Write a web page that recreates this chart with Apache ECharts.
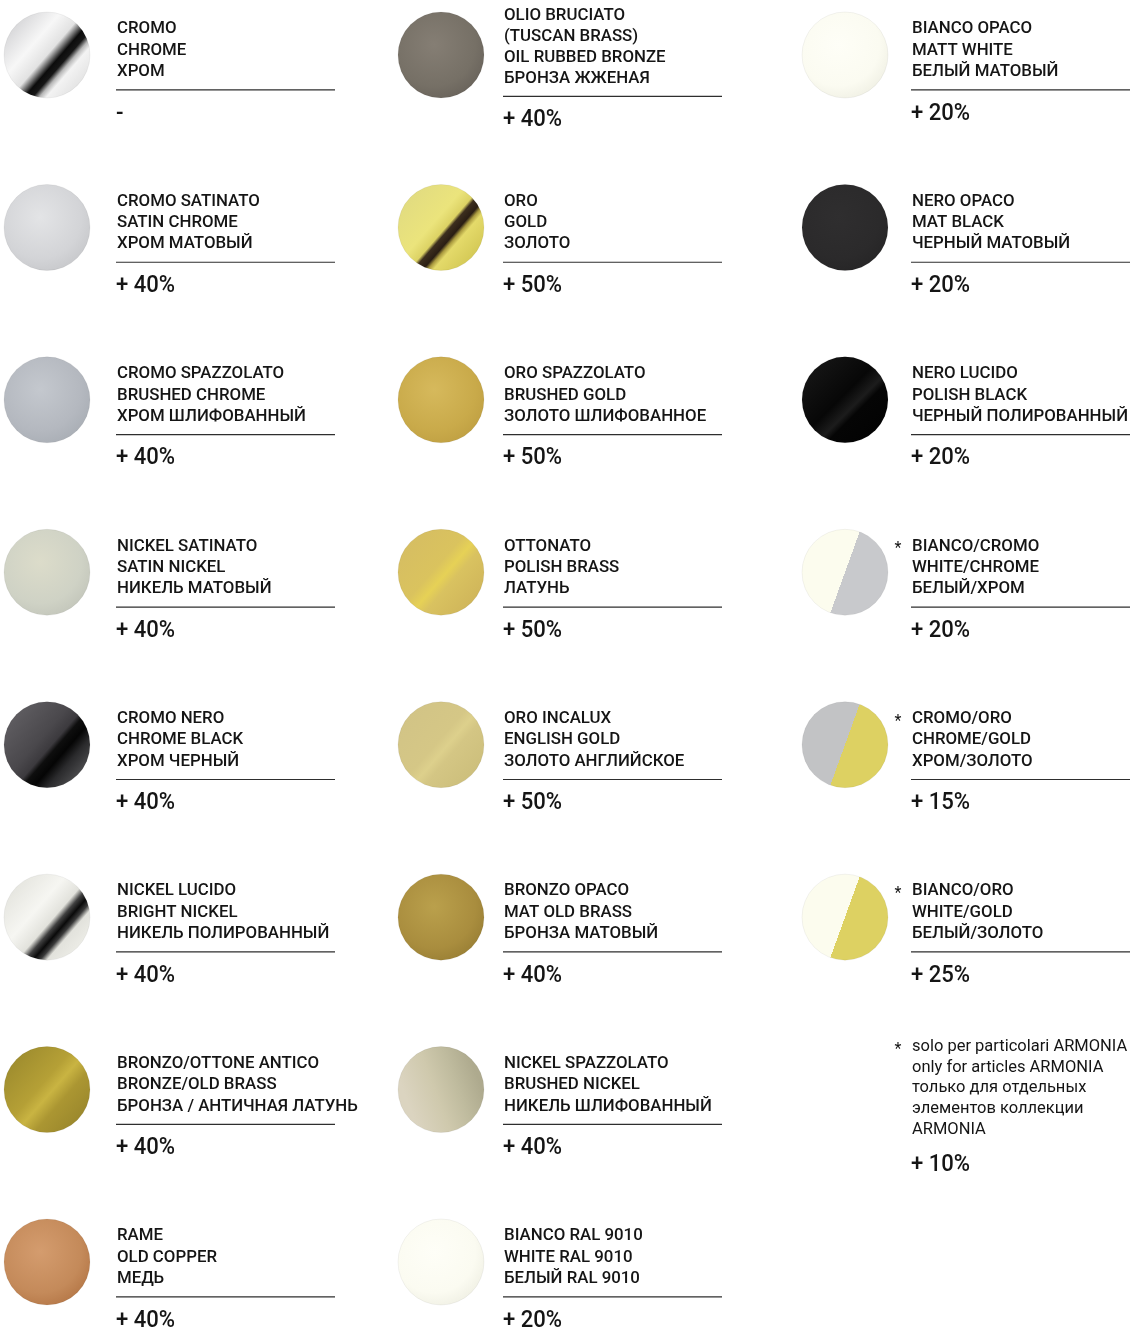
<!DOCTYPE html>
<html><head><meta charset="utf-8">
<script src="https://cdn.jsdelivr.net/npm/echarts@6/dist/echarts.min.js"></script>
<style>html,body{margin:0;padding:0;background:#fff}#c{width:1134px;height:1330px}</style>
</head><body><div id="c"></div>
<script>
// ---- data ----
const finishLabels = [
  'CROMO\nCHROME\nХРОМ',
  'CROMO SATINATO\nSATIN CHROME\nХРОМ МАТОВЫЙ',
  'CROMO SPAZZOLATO\nBRUSHED CHROME\nХРОМ ШЛИФОВАННЫЙ',
  'NICKEL SATINATO\nSATIN NICKEL\nНИКЕЛЬ МАТОВЫЙ',
  'CROMO NERO\nCHROME BLACK\nХРОМ ЧЕРНЫЙ',
  'NICKEL LUCIDO\nBRIGHT NICKEL\nНИКЕЛЬ ПОЛИРОВАННЫЙ',
  'BRONZO/OTTONE ANTICO\nBRONZE/OLD BRASS\nБРОНЗА / АНТИЧНАЯ ЛАТУНЬ',
  'RAME\nOLD COPPER\nМЕДЬ',
  'OLIO BRUCIATO\n(TUSCAN BRASS)\nOIL RUBBED BRONZE\nБРОНЗА ЖЖЕНАЯ',
  'ORO\nGOLD\nЗОЛОТО',
  'ORO SPAZZOLATO\nBRUSHED GOLD\nЗОЛОТО ШЛИФОВАННОЕ',
  'OTTONATO\nPOLISH BRASS\nЛАТУНЬ',
  'ORO INCALUX\nENGLISH GOLD\nЗОЛОТО АНГЛИЙСКОЕ',
  'BRONZO OPACO\nMAT OLD BRASS\nБРОНЗА МАТОВЫЙ',
  'NICKEL SPAZZOLATO\nBRUSHED NICKEL\nНИКЕЛЬ ШЛИФОВАННЫЙ',
  'BIANCO RAL 9010\nWHITE RAL 9010\nБЕЛЫЙ RAL 9010',
  'BIANCO OPACO\nMATT WHITE\nБЕЛЫЙ МАТОВЫЙ',
  'NERO OPACO\nMAT BLACK\nЧЕРНЫЙ МАТОВЫЙ',
  'NERO LUCIDO\nPOLISH BLACK\nЧЕРНЫЙ ПОЛИРОВАННЫЙ',
  'BIANCO/CROMO\nWHITE/CHROME\nБЕЛЫЙ/ХРОМ',
  'CROMO/ORO\nCHROME/GOLD\nХРОМ/ЗОЛОТО',
  'BIANCO/ORO\nWHITE/GOLD\nБЕЛЫЙ/ЗОЛОТО',
  'solo per particolari ARMONIA\nonly for articles ARMONIA\nтолько для отдельных\nэлементов коллекции\nARMONIA'
];
const surchargePct = [null, 40, 40, 40, 40, 40, 40, 40, 40, 50, 50, 50, 50, 40, 40, 20, 20, 20, 20, 20, 15, 25, 10];
const columnIndex  = [0, 0, 0, 0, 0, 0, 0, 0, 1, 1, 1, 1, 1, 1, 1, 1, 2, 2, 2, 2, 2, 2, 2];
const rowIndex     = [0, 1, 2, 3, 4, 5, 6, 7, 0, 1, 2, 3, 4, 5, 6, 7, 0, 1, 2, 3, 4, 5, 6];
const starred      = [0, 0, 0, 0, 0, 0, 0, 0, 0, 0, 0, 0, 0, 0, 0, 0, 0, 0, 0, 1, 1, 1, 1];
const isNote       = [0, 0, 0, 0, 0, 0, 0, 0, 0, 0, 0, 0, 0, 0, 0, 0, 0, 0, 0, 0, 0, 0, 1];

// ---- styles ----
function lin(stops, x, y, x2, y2) {
  return { type: 'linear', x: x, y: y, x2: x2, y2: y2, global: false,
    colorStops: stops.map(s => ({ offset: s[0], color: s[1] })) };
}
function rad(c1, c2, c3) {
  return { type: 'radial', x: 0.42, y: 0.38, r: 0.68, global: false,
    colorStops: [{ offset: 0, color: c1 }, { offset: 0.7, color: c2 }, { offset: 1, color: c3 || c2 }] };
}
function band(stops) { return lin(stops, 0.12, 0.17, 0.88, 0.83); }
function split(a, b) {
  return lin([[0, a], [0.5, a], [0.5, b], [1, b]], 0.03, 0.33, 0.97, 0.67);
}
const swatchFill = [
  band([[0, '#d8d8da'], [0.3, '#f7f7f7'], [0.5, '#e2e2e2'], [0.56, '#777'], [0.62, '#0c0c0c'], [0.69, '#161616'], [0.75, '#b8b8b8'], [0.81, '#f3f3f3'], [1, '#e4e4e4']]),
  rad('#e3e4e6', '#d3d4d7', '#c6c7ca'),
  rad('#c4c8ce', '#b4b8bf', '#a8adb4'),
  rad('#dcdcca', '#cfd2c5', '#c2c5ba'),
  band([[0, '#5e5c60'], [0.4, '#4a484c'], [0.54, '#3c3a3e'], [0.6, '#0e0e0e'], [0.7, '#050505'], [0.82, '#2a2a2c'], [1, '#4a4a4c']]),
  band([[0, '#e6e6e0'], [0.35, '#f6f6f2'], [0.56, '#e2e2dc'], [0.63, '#404040'], [0.7, '#0a0a0a'], [0.76, '#3a3a3a'], [0.82, '#e2e2dc'], [1, '#ecece6']]),
  lin([[0, '#9e8c2e'], [0.42, '#b5a036'], [0.55, '#c9b442'], [0.7, '#ab9632'], [1, '#9a872c']], 0.1, 0.15, 0.9, 0.85),
  rad('#d49c6e', '#c48a5a', '#b47646'),
  rad('#857e74', '#767066', '#68625a'),
  band([[0, '#e2dc80'], [0.4, '#ebe47c'], [0.54, '#dcd264'], [0.58, '#3c2e1e'], [0.66, '#2a1e14'], [0.7, '#a8983e'], [0.75, '#e4da6a'], [1, '#d4c956']]),
  rad('#d6b95c', '#c9aa4a', '#bf9f42'),
  band([[0, '#d6be62'], [0.42, '#dac35e'], [0.55, '#e6d156'], [0.66, '#d9c260'], [1, '#d0b65a']]),
  band([[0, '#d2c486'], [0.45, '#d5c786'], [0.56, '#ddd08c'], [0.66, '#d4c684'], [1, '#cdbf7c']]),
  rad('#baa04c', '#a98d3e', '#987e34'),
  lin([[0, '#dbd4c0'], [0.4, '#cfc9ad'], [0.7, '#bfbb9e'], [1, '#aeaa8e']], 0.1, 0.6, 0.9, 0.3),
  rad('#fefef7', '#fbfbf1', '#efefe3'),
  rad('#fefef7', '#fbfbf1', '#efefe3'),
  rad('#2f2e2f', '#2b2a2b', '#262526'),
  lin([[0, '#141414'], [0.45, '#070707'], [0.62, '#1c1c1c'], [0.7, '#050505'], [1, '#030303']], 0.15, 0.15, 0.85, 0.85),
  split('#fcfcee', '#c8c9cc'),
  split('#c2c3c5', '#ddd162'),
  split('#fcfcee', '#ddd162'),
  null
];
const circleDx = [0, -5, 0];
const textDx = [70, 58, 67];
const FONT = 'Roboto, "Noto Sans", sans-serif';

const chart = echarts.init(document.getElementById('c'), null, { renderer: 'canvas' });
chart.setOption({
  backgroundColor: '#ffffff',
  animation: false,
  grid: { left: 47, right: 289, top: 55, bottom: 68, containLabel: false },
  xAxis: { type: 'value', min: 0, max: 2, show: false },
  yAxis: { type: 'value', min: 0, max: 7, inverse: true, show: false },
  series: [{
    type: 'custom',
    coordinateSystem: 'cartesian2d',
    clip: false,
    data: finishLabels.map((_, i) => [columnIndex[i], rowIndex[i], i]),
    renderItem: function (params, api) {
      const i = api.value(2);
      const c = api.value(0);
      const p = api.coord([c, api.value(1)]);
      const px = p[0], py = p[1];
      const children = [];
      const fill = swatchFill[i];
      if (fill) {
        children.push({ type: 'circle', shape: { cx: px + circleDx[c], cy: py, r: 43 },
          style: { fill: fill, stroke: 'rgba(0,0,0,0.05)', lineWidth: 1 } });
      }
      const tx = px + textDx[c];
      const lines = finishLabels[i].split('\n');
      const n = lines.length;
      const lh = n > 3 ? 20.8 : 21.4;
      const y0 = py - 26 - (n === 4 ? 13 : (n > 4 ? 17 : 0));
      const note = !!isNote[i];
      lines.forEach((t, k) => {
        children.push({ type: 'text', x: tx, y: y0 + k * lh, scaleX: note ? 0.97 : 0.99,
          style: { text: t, font: (note ? '400 ' : '500 ') + '17px ' + FONT, fill: '#151515', align: 'left', verticalAlign: 'middle' } });
      });
      if (starred[i]) {
        children.push({ type: 'text', x: tx - 14, y: y0 + 3,
          style: { text: '*', font: '16px ' + FONT, fill: '#151515', align: 'center', verticalAlign: 'middle' } });
      }
      const last = y0 + (n - 1) * lh;
      let pctY;
      if (note) {
        pctY = last + 35;
      } else {
        const ly = last + 18;
        children.push({ type: 'line', shape: { x1: tx - 1, y1: ly, x2: tx + 218, y2: ly },
          style: { stroke: '#2e2e2e', lineWidth: 1.2 } });
        pctY = ly + 24;
      }
      const v = surchargePct[i];
      children.push({ type: 'text', x: tx - 1, y: pctY, scaleX: 0.96,
        style: { text: v == null ? '-' : '+ ' + v + '%', font: '500 23px ' + FONT, fill: '#151515', align: 'left', verticalAlign: 'middle' } });
      return { type: 'group', children: children };
    }
  }]
});
</script>
</body></html>
